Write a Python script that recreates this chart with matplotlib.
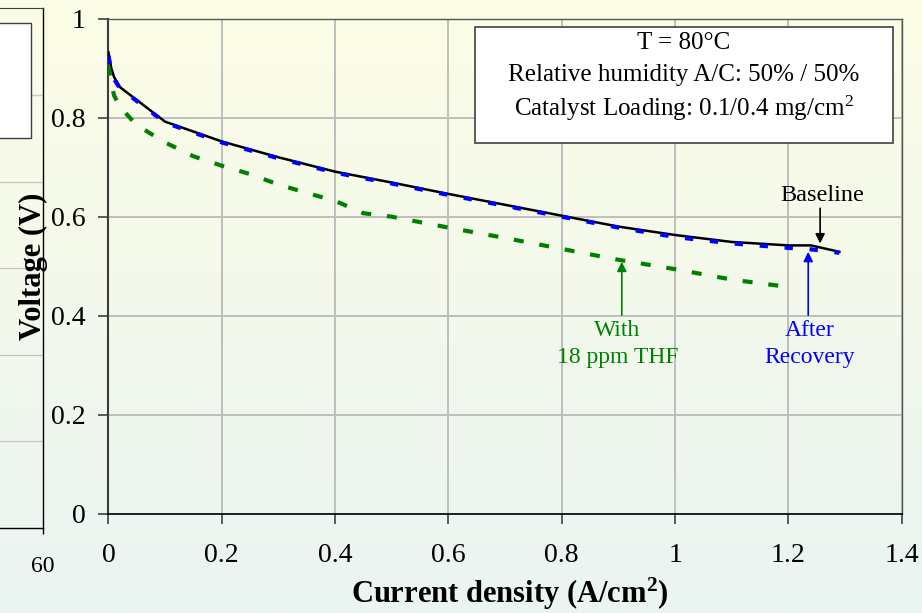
import numpy as np
import matplotlib
matplotlib.use("Agg")
import matplotlib.pyplot as plt
from matplotlib.patches import Rectangle
from matplotlib.colors import LinearSegmentedColormap
from matplotlib.ticker import FuncFormatter

plt.rcParams['font.family'] = ['Liberation Serif', 'DejaVu Serif']
plt.rcParams['mathtext.fontset'] = 'custom'
plt.rcParams['mathtext.rm'] = 'Liberation Serif'
plt.rcParams['mathtext.it'] = 'Liberation Serif:italic'
plt.rcParams['mathtext.bf'] = 'Liberation Serif:bold'

# Polarization curves: current density (A/cm2) vs cell voltage (V)
cd_baseline = [0, 0.005, 0.01, 0.02, 0.1, 0.2, 0.3, 0.4, 0.5, 0.6, 0.7, 0.8,
               0.9, 1.0, 1.1, 1.2, 1.24, 1.29]
v_baseline = [0.932, 0.900, 0.882, 0.862, 0.792, 0.752, 0.720, 0.691, 0.669,
              0.646, 0.624, 0.602, 0.580, 0.563, 0.549, 0.542, 0.542, 0.529]

cd_recovery = [0, 0.005, 0.01, 0.02, 0.1, 0.2, 0.3, 0.4, 0.5, 0.6, 0.7, 0.8,
               0.9, 1.0, 1.1, 1.2, 1.24, 1.29]
v_recovery = [0.925, 0.895, 0.878, 0.860, 0.790, 0.750, 0.718, 0.689, 0.667,
              0.644, 0.622, 0.600, 0.578, 0.559, 0.546, 0.537, 0.534, 0.527]

cd_thf = [0, 0.005, 0.01, 0.02, 0.05, 0.1, 0.15, 0.2, 0.25, 0.3, 0.35, 0.4,
          0.45, 0.5, 0.6, 0.7, 0.8, 0.9, 1.0, 1.1, 1.2]
v_thf = [0.905, 0.870, 0.845, 0.822, 0.785, 0.750, 0.722, 0.703, 0.686, 0.665,
         0.648, 0.632, 0.607, 0.600, 0.578, 0.557, 0.535, 0.513, 0.494, 0.473,
         0.458]

x_ticks = [0, 0.2, 0.4, 0.6, 0.8, 1.0, 1.2, 1.4]
y_ticks = [0, 0.2, 0.4, 0.6, 0.8, 1.0]

conditions = ["T = 80\u00b0C",
              "Relative humidity A/C: 50% / 50%",
              "Catalyst Loading: 0.1/0.4 mg/cm$^2$"]

fig = plt.figure(figsize=(9.22, 6.13), dpi=100)

# soft vertical gradient behind everything
bg = fig.add_axes([0, 0, 1, 1], zorder=-10)
grad = np.linspace(0, 1, 256).reshape(-1, 1)
cmap = LinearSegmentedColormap.from_list('bg', ['#FCFDE6', '#EAF4F2'])
bg.imshow(grad, aspect='auto', cmap=cmap, extent=[0, 1, 0, 1], origin='upper')
bg.axis('off')

# neighbouring panel, mostly outside the figure
axl = fig.add_axes([-0.5, 0.1387, 0.5463, 0.8476])
axl.set_facecolor('none')
axl.set_xlim(0, 60)
axl.set_ylim(0, 6)
axl.set_yticks(range(1, 6))
axl.yaxis.grid(True, color='#C8C8C8', lw=1.0)
axl.tick_params(axis='y', length=0, labelleft=False)
axl.set_xticks([60])
axl.set_xticklabels(['60'])
axl.tick_params(axis='x', direction='out', length=4.5, width=1, labelsize=17,
                pad=16)
axl.spines['left'].set_visible(False)
axl.spines['top'].set_color('#404040')
for s in ('right', 'bottom'):
    axl.spines[s].set_color('black')
    axl.spines[s].set_linewidth(1)
fig.add_artist(Rectangle((-0.1, 1 - 137.7 / 613), 0.1 + 31 / 922,
                         (137.7 - 22.7) / 613, transform=fig.transFigure,
                         facecolor='white', edgecolor='#404040', lw=1))

# main polarization plot
ax = fig.add_axes([0.1176, 0.162, 0.8604, 0.8075])
ax.set_facecolor('none')
ax.set_xlim(0, 1.4)
ax.set_ylim(0, 1)
ax.set_xticks(x_ticks)
ax.set_yticks(y_ticks)
fmt = FuncFormatter(lambda v, p: f"{v:g}")
ax.xaxis.set_major_formatter(fmt)
ax.yaxis.set_major_formatter(fmt)
ax.grid(True, color='#BEBEBE', lw=1.4)
ax.set_axisbelow(True)
ax.tick_params(axis='y', direction='out', length=7.2, width=1.2,
               color='#404040', labelsize=20, pad=9)
ax.tick_params(axis='x', direction='out', length=7.5, width=1.2,
               color='#404040', labelsize=20, pad=13.5)
ax.spines['left'].set_color('#3C3C3C')
ax.spines['left'].set_linewidth(1.5)
ax.spines['bottom'].set_color('black')
ax.spines['bottom'].set_linewidth(1.2)
for s in ('top', 'right'):
    ax.spines[s].set_color('#555555')
    ax.spines[s].set_linewidth(1.0)

ax.plot(cd_baseline, v_baseline, color='black', lw=1.8, zorder=3)
ax.plot(cd_thf, v_thf, color='#008000', lw=3, ls=(0, (2.4, 3.8)), zorder=3)
ax.plot(cd_recovery, v_recovery, color='#0000FF', lw=3, ls=(0, (2, 4)),
        zorder=4)

# curve labels with arrows
arrow_kw = dict(arrowstyle='-|>', lw=1.2, mutation_scale=14,
                shrinkA=0, shrinkB=0)
ax.annotate('', xy=(1.256, 0.546), xytext=(1.256, 0.617),
            arrowprops=dict(color='black', **arrow_kw))
ax.text(1.259, 0.643, 'Baseline', ha='center', va='center', fontsize=17.5,
        color='black')

ax.annotate('', xy=(1.235, 0.529), xytext=(1.235, 0.401),
            arrowprops=dict(color='#0000FF', **arrow_kw))
ax.text(1.238, 0.370, 'After', ha='center', va='center', fontsize=17,
        color='#0000FF')
ax.text(1.238, 0.315, 'Recovery', ha='center', va='center', fontsize=17,
        color='#0000FF')

ax.annotate('', xy=(0.906, 0.509), xytext=(0.906, 0.401),
            arrowprops=dict(color='#008000', **arrow_kw))
ax.text(0.898, 0.370, 'With', ha='center', va='center', fontsize=17,
        color='#008000')
ax.text(0.898, 0.315, '18 ppm THF', ha='center', va='center', fontsize=17,
        color='#008000')

# operating conditions box
ax.add_patch(Rectangle((0.462, 0.749), 0.527, 0.235, transform=ax.transAxes,
                       facecolor='white', edgecolor='#404040', lw=1.2,
                       zorder=5))
for ytxt, line in zip([0.951, 0.886, 0.8196], conditions):
    ax.text(0.7256, ytxt, line, transform=ax.transAxes, ha='center',
            va='center', fontsize=18, zorder=6)

fig.text(33 / 922, 1 - 266 / 613, 'Voltage (V)', rotation=90, ha='center',
         va='center', fontsize=22, fontweight='bold')
fig.text(510 / 922, 1 - 594 / 613, r'Current density (A/cm$^\mathbf{2}$)',
         ha='center', va='center', fontsize=22, fontweight='bold')

fig.savefig('out.png', dpi=100)
